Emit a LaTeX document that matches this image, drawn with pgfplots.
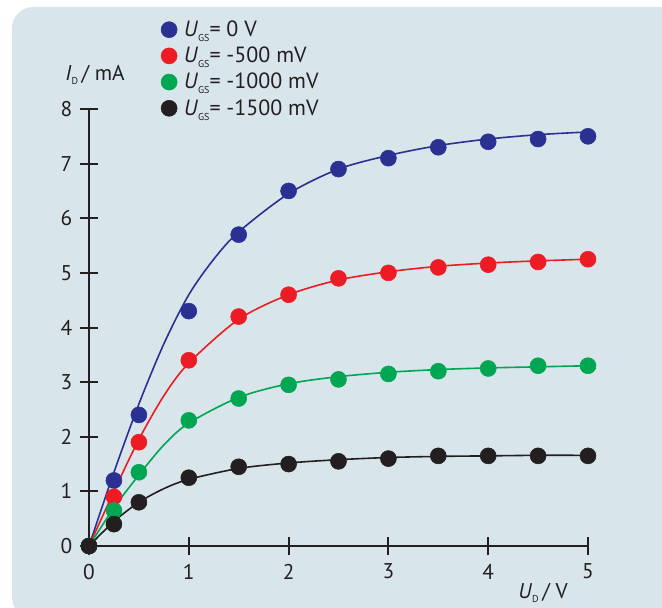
\documentclass[border=0pt]{standalone}
\usepackage{pgfplots}
\pgfplotsset{compat=1.18}
\usepackage{fontspec}
\setmainfont{PT Sans}
\definecolor{bgc}{RGB}{216,229,235}
\definecolor{cblue}{RGB}{43,49,146}
\definecolor{cred}{RGB}{237,28,36}
\definecolor{cgreen}{RGB}{0,166,81}
\definecolor{cblack}{RGB}{35,31,32}
\newcommand{\sub}[1]{\raisebox{-0.45ex}{\fontsize{7.5}{8}\selectfont #1}}
\begin{document}
\begin{tikzpicture}
\useasboundingbox (0,0) rectangle (496.5pt,456pt);
\begin{scope}
\clip (0,0) rectangle (496.5pt,456pt);
\fill[bgc, rounded corners=16pt] (9pt,-8pt) rectangle (520pt,450.75pt);
\end{scope}
\begin{axis}[
  at={(66.75pt,46.5pt)}, anchor=south west,
  scale only axis, width=374.25pt, height=327.75pt,
  xmin=0, xmax=5, ymin=0, ymax=8,
  axis x line=bottom, axis y line=left,
  axis line style={-, line width=1.5pt, color=cblack},
  every tick/.style={line width=1.5pt, color=cblack},
  xtick={0,1,2,3,4,5}, ytick={0,1,2,3,4,5,6,7,8},
  tick align=center, major tick length=14pt,
  tick label style={font=\fontsize{16}{18}\selectfont, text=cblack},
  /pgf/number format/assume math mode=true,
  xticklabel style={yshift=-3pt},
  yticklabel style={xshift=-2pt},
  clip=false,
  legend style={at={(0.136,1.213)}, anchor=north west, draw=none, fill=none,
    font=\fontsize{16.5}{18}\selectfont, row sep=3.4pt, text=cblack,
    nodes={inner sep=1.5pt}},
  legend cell align=left,
]
% fitted curves
\addplot[cblue, line width=1.2pt, smooth, forget plot] coordinates {(0,0) (0.25,1.35) (0.5,2.6) (0.75,3.7) (1,4.6) (1.25,5.25) (1.5,5.75) (2,6.45) (2.5,6.9) (3,7.15) (3.5,7.33) (4,7.45) (4.5,7.53) (5,7.58)};
\addplot[cred, line width=1.2pt, smooth, forget plot] coordinates {(0,0) (0.25,1.0) (0.5,1.95) (0.75,2.75) (1,3.35) (1.5,4.15) (2,4.6) (2.5,4.87) (3,5.02) (3.5,5.12) (4,5.18) (4.5,5.22) (5,5.25)};
\addplot[cgreen, line width=1.2pt, smooth, forget plot] coordinates {(0,0) (0.25,0.7) (0.5,1.3) (0.75,1.85) (1,2.25) (1.5,2.72) (2,2.97) (2.5,3.1) (3,3.18) (3.5,3.23) (4,3.26) (4.5,3.28) (5,3.3)};
\addplot[cblack, line width=1.2pt, smooth, forget plot] coordinates {(0,0) (0.25,0.45) (0.5,0.8) (0.75,1.05) (1,1.22) (1.5,1.42) (2,1.52) (2.5,1.58) (3,1.62) (3.5,1.64) (4,1.65) (4.5,1.66) (5,1.66)};
% measured points
\addplot[only marks, mark=*, mark size=6pt, color=cblue] coordinates {(0,0) (0.25,1.2) (0.5,2.4) (1,4.3) (1.5,5.7) (2,6.5) (2.5,6.9) (3,7.1) (3.5,7.3) (4,7.4) (4.5,7.45) (5,7.5)};
\addlegendentry{\hspace{3.5pt}\textit{U}\sub{GS}= 0 V}
\addplot[only marks, mark=*, mark size=6pt, color=cred] coordinates {(0,0) (0.25,0.9) (0.5,1.9) (1,3.4) (1.5,4.2) (2,4.6) (2.5,4.9) (3,5.0) (3.5,5.1) (4,5.15) (4.5,5.2) (5,5.25)};
\addlegendentry{\hspace{3.5pt}\textit{U}\sub{GS}= -500 mV}
\addplot[only marks, mark=*, mark size=6pt, color=cgreen] coordinates {(0,0) (0.25,0.65) (0.5,1.35) (1,2.3) (1.5,2.7) (2,2.95) (2.5,3.05) (3,3.15) (3.5,3.2) (4,3.25) (4.5,3.3) (5,3.3)};
\addlegendentry{\hspace{3.5pt}\textit{U}\sub{GS}= -1000 mV}
\addplot[only marks, mark=*, mark size=6pt, color=cblack] coordinates {(0,0) (0.25,0.4) (0.5,0.8) (1,1.25) (1.5,1.45) (2,1.5) (2.5,1.55) (3,1.6) (3.5,1.65) (4,1.65) (4.5,1.65) (5,1.65)};
\addlegendentry{\hspace{3.5pt}\textit{U}\sub{GS}= -1500 mV}
\end{axis}
\node[font=\fontsize{16}{18}\selectfont, text=cblack] at (71.25pt,399.75pt) {\textit{I}\sub{D}\,/ mA};
\node[font=\fontsize{16}{18}\selectfont, text=cblack] at (407.25pt,11.25pt) {\textit{U}\sub{D}\,/ V};
\end{tikzpicture}
\end{document}
